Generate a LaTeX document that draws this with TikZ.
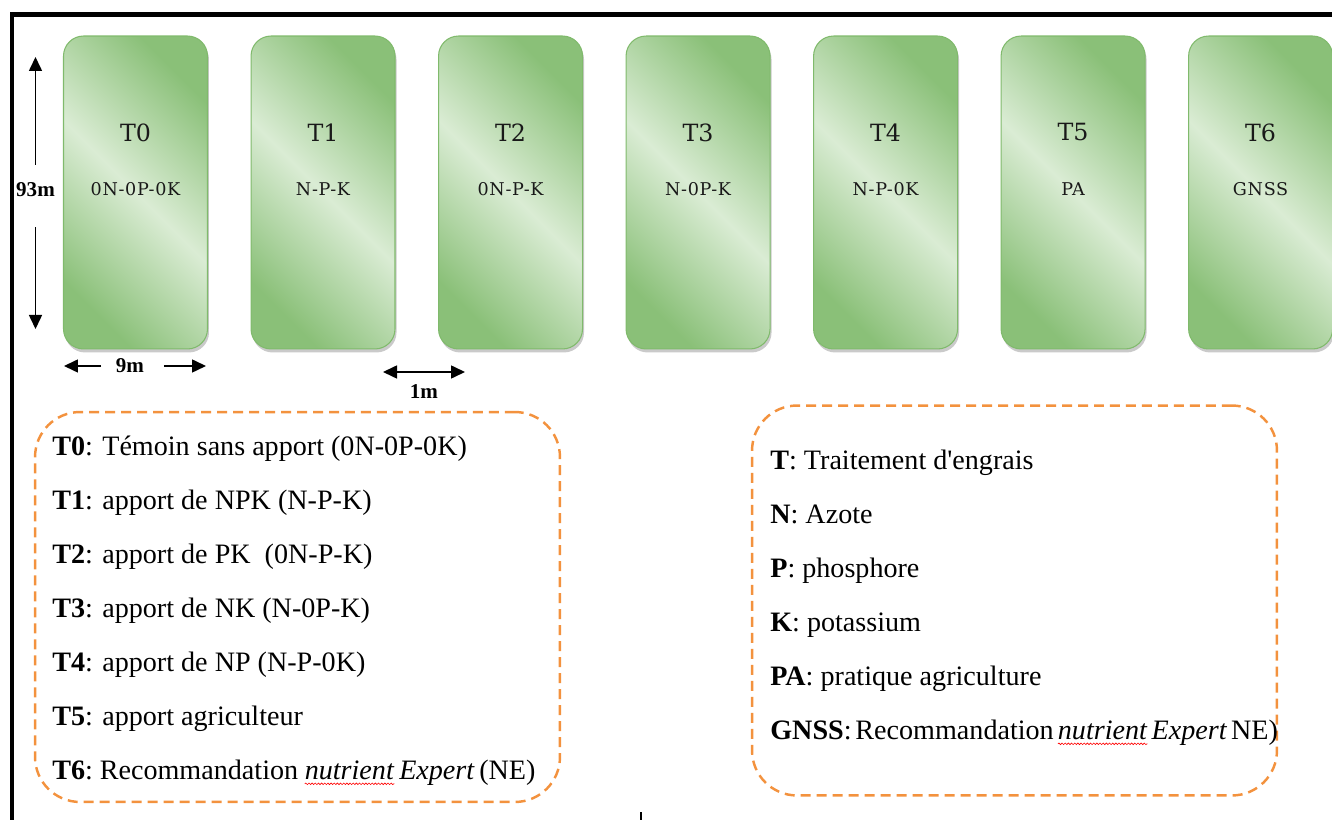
\documentclass[tikz,border=0pt]{standalone}
\usepackage{fontspec}
\setmainfont{Liberation Serif}[Ligatures=TeXOff]
\newfontfamily\plotfont{DejaVu Serif}
\usepackage{tikz}
\usetikzlibrary{positioning, arrows.meta, shadows, decorations.pathmorphing}

\definecolor{plotdark}{RGB}{138,192,120}
\definecolor{plotlight}{RGB}{218,236,212}
\definecolor{plotedge}{RGB}{128,186,108}
\definecolor{legorange}{RGB}{243,146,62}

% red wavy underline (spell checker mark)
\newcommand{\spellmark}[1]{\tikz[baseline=(w.base)]{\node[inner sep=0pt,outer sep=0pt] (w) {#1};\draw[red, line width=0.35pt, decorate, decoration={snake,amplitude=0.45pt,segment length=1.8pt}] ([yshift=-2.2pt]w.base west) -- ([yshift=-2.2pt]w.base east);}}

\begin{document}
\begin{tikzpicture}[x=0.02cm, y=-0.02cm, node distance=0.85cm,
                    >={Triangle[length=0.28cm,width=0.26cm]},
                    plot/.style={rectangle, rounded corners=0.4cm, draw=plotedge, line width=0.6pt,
                      minimum width=2.88cm, minimum height=6.26cm,
                      top color=plotdark, bottom color=plotdark, middle color=plotlight, shading angle=-45,
                      drop shadow={shadow xshift=0.03cm, shadow yshift=-0.07cm, opacity=0.35, fill=black!60}},
                    plotname/.style={text=black!90, font=\plotfont\fontsize{13.5}{16}\selectfont},
                    plotsub/.style={text=black!90, font=\plotfont\fontsize{10}{12}\selectfont\addfontfeature{LetterSpace=4}},
                    dimlabel/.style={inner sep=0pt, font=\bfseries\fontsize{12}{14}\selectfont},
                    dimarrow/.style={line width=0.9pt},
                    legbox/.style={rectangle, rounded corners=0.9cm, draw=legorange, line width=1.4pt,
                      dash pattern=on 0.2cm off 0.12cm, minimum width=10.5cm, minimum height=7.8cm},
                    legline/.style={anchor=base west, inner sep=0pt, font=\fontsize{16}{19}\selectfont}]

  \useasboundingbox (0,0) rectangle (1332,820);

  % frame
  \draw[line width=0.09cm] (12,820) -- (12,14.5) -- (1332,14.5);
  \draw[line width=0.04cm] (641,812) -- (641,820);

  % plots
  \node[plot] (p0) at (135.5,192.5) {};
  \node[plot] (p1) [right=of p0] {};
  \node[plot] (p2) [right=of p1] {};
  \node[plot] (p3) [right=of p2] {};
  \node[plot] (p4) [right=of p3] {};
  \node[plot] (p5) [right=of p4] {};
  \node[plot] (p6) [right=of p5] {};

  \node[plotname] (n0) at ([yshift=-1.94cm]p0.north) {T0};
  \node[plotname] (n1) at ([yshift=-1.94cm]p1.north) {T1};
  \node[plotname] (n2) at ([yshift=-1.94cm]p2.north) {T2};
  \node[plotname] (n3) at ([yshift=-1.94cm]p3.north) {T3};
  \node[plotname] (n4) at ([yshift=-1.94cm]p4.north) {T4};
  \node[plotname] (n5) at ([yshift=-1.94cm]p5.north) {T5};
  \node[plotname] (n6) at ([yshift=-1.94cm]p6.north) {T6};

  \node[plotsub] (s0) at ([yshift=-1.14cm]n0) {0N-0P-0K};
  \node[plotsub] (s1) at ([yshift=-1.14cm]n1) {N-P-K};
  \node[plotsub] (s2) at ([yshift=-1.14cm]n2) {0N-P-K};
  \node[plotsub] (s3) at ([yshift=-1.14cm]n3) {N-0P-K};
  \node[plotsub] (s4) at ([yshift=-1.14cm]n4) {N-P-0K};
  \node[plotsub] (s5) at ([yshift=-1.14cm]n5) {PA};
  \node[plotsub] (s6) at ([yshift=-1.14cm]n6) {GNSS};

  % dimensions
  \node[dimlabel] (d93) at (35.5,190) {93m};
  \coordinate (v93top) at (35.5,57);
  \coordinate (v93bot) at (35.5,329);
  \draw[dimarrow, ->, shorten <=0.36cm] (d93) -- (v93top);
  \draw[dimarrow, ->, shorten <=0.6cm] (d93) -- (v93bot);

  \node[dimlabel] (d9) at (130,366) {9m};
  \coordinate (h9l) at (64,366);
  \coordinate (h9r) at (206,366);
  \draw[dimarrow, ->, shorten <=0.29cm] (d9) -- (h9l);
  \draw[dimarrow, ->, shorten <=0.39cm] (d9) -- (h9r);

  \coordinate (m1l) at (383,372);
  \coordinate (m1r) at (465,372);
  \draw[dimarrow, <->] (m1l) -- (m1r);
  \node[dimlabel] (d1) at (424,392) {1m};

  % legends
  \node[legbox] (legT) at (297.5,607) {};
  \node[legbox] (legK) at (1014.5,600.5) {};

  \node[legline] (l0) at (52,456) {\textbf{T0}: Témoin sans apport (0N-0P-0K)};
  \node[legline] (l1) at ([yshift=-1.08cm]l0.base west) {\textbf{T1}: apport de NPK (N-P-K)};
  \node[legline] (l2) at ([yshift=-1.08cm]l1.base west) {\textbf{T2}: apport de PK\ \ (0N-P-K)};
  \node[legline] (l3) at ([yshift=-1.08cm]l2.base west) {\textbf{T3}: apport de NK (N-0P-K)};
  \node[legline] (l4) at ([yshift=-1.08cm]l3.base west) {\textbf{T4}: apport de NP (N-P-0K)};
  \node[legline] (l5) at ([yshift=-1.08cm]l4.base west) {\textbf{T5}: apport agriculteur};
  \node[legline] (l6) at ([yshift=-1.08cm]l5.base west) {\spaceskip=2.6pt\textbf{T6}: Recommandation\hspace{1pt} \spellmark{\textit{nutrient}} \textit{Expert} (NE)};

  \node[legline] (k0) at (770,470) {\textbf{T}: Traitement d'engrais};
  \node[legline] (k1) at ([yshift=-1.08cm]k0.base west) {\textbf{N}: Azote};
  \node[legline] (k2) at ([yshift=-1.08cm]k1.base west) {\textbf{P}: phosphore};
  \node[legline] (k3) at ([yshift=-1.08cm]k2.base west) {\textbf{K}: potassium};
  \node[legline] (k4) at ([yshift=-1.08cm]k3.base west) {\textbf{PA}: pratique agriculture};
  \node[legline] (k5) at ([yshift=-1.08cm]k4.base west) {\spaceskip=2.2pt\textbf{GNSS}: Recommandation \spellmark{\textit{nutrient}} \textit{Expert} NE)};

\end{tikzpicture}
\end{document}
